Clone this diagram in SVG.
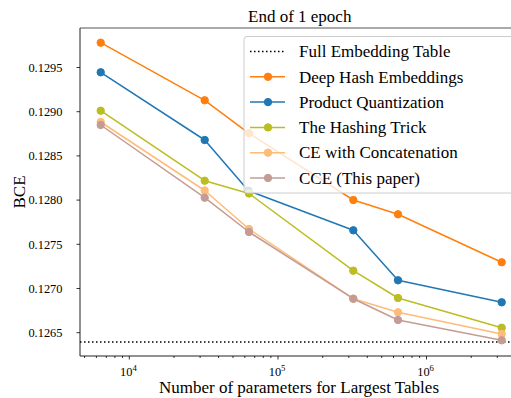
<svg xmlns="http://www.w3.org/2000/svg" width="511" height="398" viewBox="0 0 511 398">
<style>
text{font-family:"Liberation Serif","Times New Roman",serif;fill:#000}
.tl{font-size:12.4px}
.lab{font-size:17px}
.leg{font-size:17px}
.ln{fill:none;stroke-width:1.5;stroke-linejoin:round}
.tick{stroke:#000;stroke-width:0.8}
</style>
<defs>
<circle id="m" r="3.7"/>
</defs>
<rect width="511" height="398" fill="#fff"/>
<g id="axes">
<line x1="80" y1="28" x2="511" y2="28" stroke="#555" stroke-width="1"/>
<line x1="80" y1="28" x2="80" y2="356" stroke="#222" stroke-width="1"/>
<line x1="80" y1="356" x2="511" y2="356" stroke="#222" stroke-width="1"/>
<g class="tick">
<line x1="76.5" y1="67.5" x2="80" y2="67.5"/>
<line x1="76.5" y1="111.7" x2="80" y2="111.7"/>
<line x1="76.5" y1="155.9" x2="80" y2="155.9"/>
<line x1="76.5" y1="200.1" x2="80" y2="200.1"/>
<line x1="76.5" y1="244.3" x2="80" y2="244.3"/>
<line x1="76.5" y1="288.5" x2="80" y2="288.5"/>
<line x1="76.5" y1="332.7" x2="80" y2="332.7"/>
<line x1="129.3" y1="356" x2="129.3" y2="359.5"/>
<line x1="278" y1="356" x2="278" y2="359.5"/>
<line x1="426.5" y1="356" x2="426.5" y2="359.5"/>
<line x1="84.6" y1="356" x2="84.6" y2="358"/>
<line x1="96.4" y1="356" x2="96.4" y2="358"/>
<line x1="106.3" y1="356" x2="106.3" y2="358"/>
<line x1="114.9" y1="356" x2="114.9" y2="358"/>
<line x1="122.5" y1="356" x2="122.5" y2="358"/>
<line x1="174" y1="356" x2="174" y2="358"/>
<line x1="200.1" y1="356" x2="200.1" y2="358"/>
<line x1="218.6" y1="356" x2="218.6" y2="358"/>
<line x1="233" y1="356" x2="233" y2="358"/>
<line x1="244.8" y1="356" x2="244.8" y2="358"/>
<line x1="254.7" y1="356" x2="254.7" y2="358"/>
<line x1="263.3" y1="356" x2="263.3" y2="358"/>
<line x1="270.9" y1="356" x2="270.9" y2="358"/>
<line x1="322.7" y1="356" x2="322.7" y2="358"/>
<line x1="348.8" y1="356" x2="348.8" y2="358"/>
<line x1="367.3" y1="356" x2="367.3" y2="358"/>
<line x1="381.7" y1="356" x2="381.7" y2="358"/>
<line x1="393.5" y1="356" x2="393.5" y2="358"/>
<line x1="403.4" y1="356" x2="403.4" y2="358"/>
<line x1="412" y1="356" x2="412" y2="358"/>
<line x1="419.6" y1="356" x2="419.6" y2="358"/>
<line x1="471.2" y1="356" x2="471.2" y2="358"/>
<line x1="497.3" y1="356" x2="497.3" y2="358"/>
</g>
<g class="tl" text-anchor="end">
<text x="62.5" y="71.7">0.1295</text>
<text x="62.5" y="115.9">0.1290</text>
<text x="62.5" y="160.1">0.1285</text>
<text x="62.5" y="204.3">0.1280</text>
<text x="62.5" y="248.5">0.1275</text>
<text x="62.5" y="292.7">0.1270</text>
<text x="62.5" y="336.9">0.1265</text>
</g>
<g class="tl">
<text x="120" y="375.5">10<tspan font-size="8.7" dy="-5">4</tspan></text>
<text x="268.7" y="375.5">10<tspan font-size="8.7" dy="-5">5</tspan></text>
<text x="417.2" y="375.5">10<tspan font-size="8.7" dy="-5">6</tspan></text>
</g>
<text class="lab" x="159" y="393">Number of parameters for Largest Tables</text>
<text class="lab" transform="translate(25 192) rotate(-90)" text-anchor="middle">BCE</text>
<text class="lab" x="248" y="21.5">End of 1 epoch</text>
</g>
<g id="connectors">
<line id="full" x1="80" y1="342" x2="511" y2="342" stroke="#000" stroke-width="1.5" stroke-dasharray="1.5 2.5"/>
<g id="deephash" stroke="#ff7f0e" fill="#ff7f0e">
<polyline class="ln" points="100.7,42.7 204.7,100.3 249,133.3 353.3,200 398,214.3 501.7,262.3"/>
<use href="#m" x="100.7" y="42.7"/><use href="#m" x="204.7" y="100.3"/><use href="#m" x="249" y="133.3"/><use href="#m" x="353.3" y="200"/><use href="#m" x="398" y="214.3"/><use href="#m" x="501.7" y="262.3"/>
</g>
<g id="pq" stroke="#1f77b4" fill="#1f77b4">
<polyline class="ln" points="100.7,72.3 204.7,140 248.5,190.7 353.3,230.3 398,280.3 501.7,302.3"/>
<use href="#m" x="100.7" y="72.3"/><use href="#m" x="204.7" y="140"/><use href="#m" x="248.5" y="190.7"/><use href="#m" x="353.3" y="230.3"/><use href="#m" x="398" y="280.3"/><use href="#m" x="501.7" y="302.3"/>
</g>
<g id="hashing" stroke="#bcbd22" fill="#bcbd22">
<polyline class="ln" points="100.7,110.7 204.7,180.7 249,193.5 353.3,270.7 398,298 501.7,327.7"/>
<use href="#m" x="100.7" y="110.7"/><use href="#m" x="204.7" y="180.7"/><use href="#m" x="249" y="193.5"/><use href="#m" x="353.3" y="270.7"/><use href="#m" x="398" y="298"/><use href="#m" x="501.7" y="327.7"/>
</g>
<g id="ceconcat" stroke="#ffbb78" fill="#ffbb78">
<polyline class="ln" points="100.7,122 204.7,190.5 249,229 353.3,298.7 398,312.3 501.7,334"/>
<use href="#m" x="100.7" y="122"/><use href="#m" x="204.7" y="190.5"/><use href="#m" x="249" y="229"/><use href="#m" x="353.3" y="298.7"/><use href="#m" x="398" y="312.3"/><use href="#m" x="501.7" y="334"/>
</g>
<g id="cce" stroke="#c49c94" fill="#c49c94">
<polyline class="ln" points="100.7,125 204.7,197.7 249,232 353.3,298.7 398,320 501.7,340.3"/>
<use href="#m" x="100.7" y="125"/><use href="#m" x="204.7" y="197.7"/><use href="#m" x="249" y="232"/><use href="#m" x="353.3" y="298.7"/><use href="#m" x="398" y="320"/><use href="#m" x="501.7" y="340.3"/>
</g>
</g>
<g id="legend">
<rect x="244" y="36.5" width="280" height="156.5" rx="3" fill="#fff" fill-opacity="0.8" stroke="#ccc" stroke-width="1"/>
<line x1="250" y1="51.5" x2="285" y2="51.5" stroke="#000" stroke-width="1.5" stroke-dasharray="1.5 2.5"/>
<g stroke="#ff7f0e" fill="#ff7f0e"><line x1="250" y1="76.8" x2="285" y2="76.8" stroke-width="1.5"/><use href="#m" x="268" y="76.8"/></g>
<g stroke="#1f77b4" fill="#1f77b4"><line x1="250" y1="102.1" x2="285" y2="102.1" stroke-width="1.5"/><use href="#m" x="268" y="102.1"/></g>
<g stroke="#bcbd22" fill="#bcbd22"><line x1="250" y1="127.4" x2="285" y2="127.4" stroke-width="1.5"/><use href="#m" x="268" y="127.4"/></g>
<g stroke="#ffbb78" fill="#ffbb78"><line x1="250" y1="152.7" x2="285" y2="152.7" stroke-width="1.5"/><use href="#m" x="268" y="152.7"/></g>
<g stroke="#c49c94" fill="#c49c94"><line x1="250" y1="178" x2="285" y2="178" stroke-width="1.5"/><use href="#m" x="268" y="178"/></g>
<g class="leg">
<text x="299" y="57.2">Full Embedding Table</text>
<text x="299" y="82.5">Deep Hash Embeddings</text>
<text x="299" y="107.8">Product Quantization</text>
<text x="299" y="133.1">The Hashing Trick</text>
<text x="299" y="158.4">CE with Concatenation</text>
<text x="299" y="183.7">CCE (This paper)</text>
</g>
</g>
</svg>
